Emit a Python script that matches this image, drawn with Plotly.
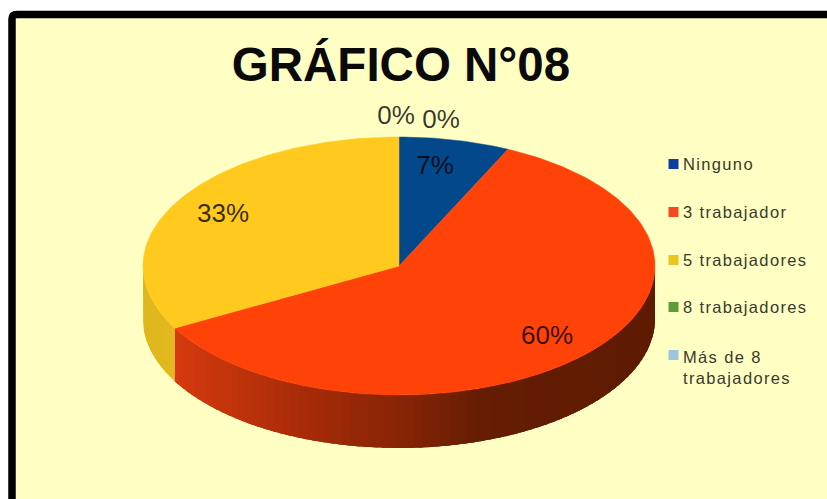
import math
import plotly.graph_objects as go

# Survey results, clockwise from twelve o'clock
categories = ["Ninguno", "3 trabajador", "5 trabajadores", "8 trabajadores", "Más de 8<br>trabajadores"]
values = [7, 60, 33, 0, 0]
slice_colors = ["#04488C", "#FF4208", "#FFC91E", "#5E9A35", "#9DC3E0"]
legend_colors = ["#0E3FA0", "#F04A20", "#EAC522", "#5E9A35", "#9DC3E0"]

# Percentage label centres on the canvas, one per slice
label_x = [435, 547, 223, 441, 396]
label_y = [167, 337, 215, 121, 117]
legend_y = [164, 212, 260, 307, 355]
legend_text_y = [164, 212, 260, 307, 367]

W, H = 827, 499
CX, CY, RX, RY = 399, 266, 256, 129
DEPTH = 53 / RY

# Side wall shading as (sin of the angle, colour) stops
red_wall = [(-0.88, (214, 58, 14)), (-0.4, (170, 44, 8)), (0.0, (136, 36, 5)), (0.32, (101, 29, 3)), (1.0, (94, 27, 2))]
yellow_wall = [(-1.0, (222, 182, 30)), (-0.88, (226, 186, 30))]


def shade(stops, s):
    if s <= stops[0][0]:
        return "rgb(%d,%d,%d)" % stops[0][1]
    for (a, ca), (b, cb) in zip(stops, stops[1:]):
        if s <= b:
            t = (s - a) / (b - a)
            return "rgb(%d,%d,%d)" % tuple(round(p + (q - p) * t) for p, q in zip(ca, cb))
    return "rgb(%d,%d,%d)" % stops[-1][1]


def arc(a0, a1, step=1.0):
    n = max(1, int(abs(a1 - a0) / step))
    return [a0 + (a1 - a0) * i / n for i in range(n + 1)]


fig = go.Figure()


def add_poly(xs, ys, color, edge=0):
    fig.add_trace(go.Scatter(x=xs, y=ys, mode="lines", fill="toself", fillcolor=color,
                             line=dict(color=color, width=edge), hoverinfo="skip", showlegend=False))


# Slice boundaries in degrees
bounds = [0.0]
for v in values:
    bounds.append(bounds[-1] + v * 3.6)

# Side wall: only the front half of the disc shows. Each band runs a little past
# its own end and the next band paints over the excess, so no seams appear.
walls = [(bounds[1], bounds[2], red_wall), (bounds[2], 270.0, yellow_wall)]
for a0, a1, stops in walls:
    a0 = max(a0, 90.0)
    pts = arc(a0, a1, 2.0)
    for p, q in zip(pts, pts[1:]):
        seg = arc(p, min(q + 3.0, a1), 1.0)
        xs = [math.sin(math.radians(t)) for t in seg]
        ys = [math.cos(math.radians(t)) for t in seg]
        add_poly(xs + xs[::-1], ys + [y - DEPTH for y in ys[::-1]],
                 shade(stops, math.sin(math.radians((p + q) / 2))))

# Top face of the disc
for i, v in enumerate(values):
    if v == 0:
        continue
    seg = arc(bounds[i], bounds[i + 1])
    add_poly([0] + [math.sin(math.radians(t)) for t in seg] + [0],
             [0] + [math.cos(math.radians(t)) for t in seg] + [0], slice_colors[i], edge=0.5)

# Percentage labels, on the canvas-sized overlay axes
fig.add_trace(go.Scatter(x=label_x, y=label_y, xaxis="x2", yaxis="y2", mode="text",
                         text=[f"{v}%" for v in values], textposition="middle center",
                         textfont=dict(family="Liberation Sans", size=26, color="rgba(0,0,0,0.78)"),
                         hoverinfo="skip", showlegend=False))

# Legend swatches
fig.add_trace(go.Scatter(x=[673.5] * len(categories), y=legend_y, xaxis="x2", yaxis="y2", mode="markers",
                         marker=dict(symbol="square", size=10, color=legend_colors, line=dict(width=0)),
                         hoverinfo="skip", showlegend=False))

annotations = [dict(x=681, y=y, xref="x2", yref="y2", text=c, showarrow=False, xanchor="left", yanchor="middle",
                    align="left", font=dict(family="Liberation Sans", size=16.5, color="#3A3A2C"))
               for c, y in zip(categories, legend_text_y)]

# Chart panel with its heavy top and left rules
frame = ("M 12 %d L 12 19 Q 12 14.5 17 14.5 L %d 14.5" % (H + 5, W + 5))
fig.update_layout(
    width=W, height=H, margin=dict(l=0, r=0, t=0, b=0), autosize=False,
    paper_bgcolor="#FFFFFF", plot_bgcolor="#FFFFFF",
    title=dict(text="<b>GRÁFICO N°08</b>", x=401 / W, y=1 - 64 / H, xanchor="center", yanchor="middle",
               font=dict(family="Liberation Sans", size=47.5, color="#0A0A0A")),
    xaxis=dict(range=[-CX / RX, (W - CX) / RX], visible=False, fixedrange=True),
    yaxis=dict(range=[-(H - CY) / RY, CY / RY], visible=False, fixedrange=True),
    xaxis2=dict(range=[0, W], overlaying="x", visible=False, fixedrange=True),
    yaxis2=dict(range=[H, 0], overlaying="y", visible=False, fixedrange=True),
    annotations=annotations,
    shapes=[dict(type="path", xref="x2", yref="y2", layer="below", path=frame + " L %d %d Z" % (W + 5, H + 5),
                 fillcolor="#FFFFC4", line=dict(color="#000000", width=7.5))],
)

# Wider tracking on the legend captions
tracking = "document.querySelectorAll('.annotation-text').forEach(t => t.style.letterSpacing = '1.35px');"
fig.write_html("out.html", post_script=tracking, config=dict(displayModeBar=False))
